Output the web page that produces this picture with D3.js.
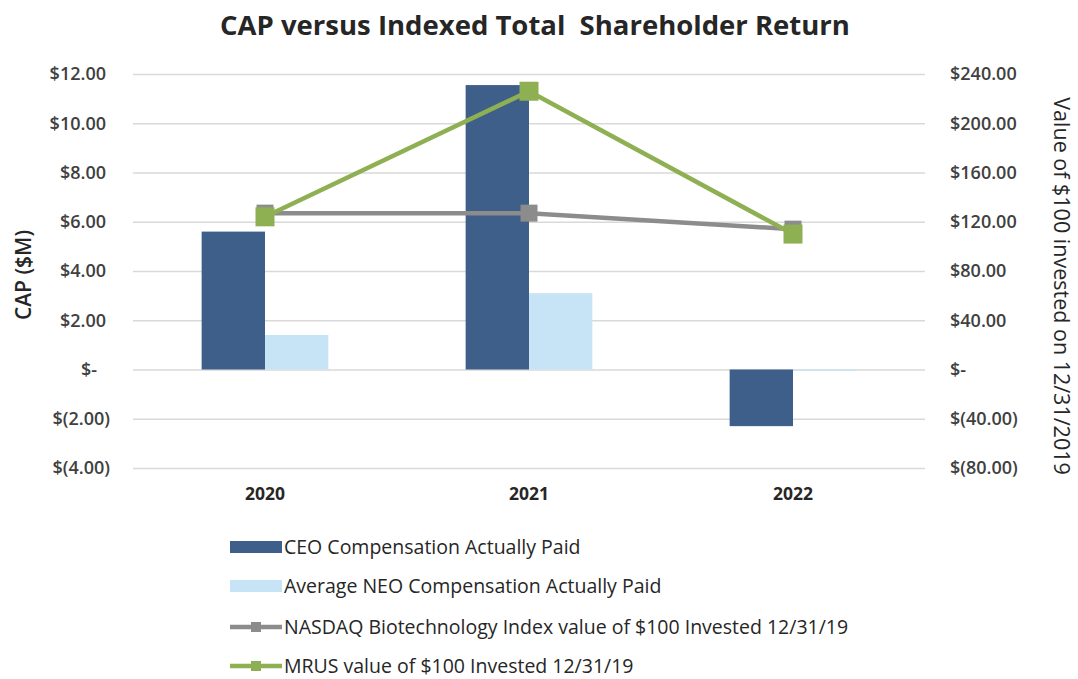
<!DOCTYPE html>
<html>
<head>
<meta charset="utf-8">
<script src="https://cdn.jsdelivr.net/npm/d3@7"></script>
<style>
  body { margin: 0; background: #fff; }
  svg { font-family: "Open Sans", sans-serif; }
</style>
</head>
<body>
<svg id="drawing_region"></svg>
<script>
var years = ['2020', '2021', '2022'];
var ceoCap = [5.6, 11.55, -2.3];
var neoCap = [1.4, 3.1, -0.05];
var nasdaqTsr = [127, 127, 114];
var mrusTsr = [124, 226, 110];
var leftTicks = [-4, -2, 0, 2, 4, 6, 8, 10, 12];
var rightTicks = [-80, -40, 0, 40, 80, 120, 160, 200, 240];
var legendLabels = [
    'CEO Compensation Actually Paid',
    'Average NEO Compensation Actually Paid',
    'NASDAQ Biotechnology Index value of $100 Invested 12/31/19',
    'MRUS value of $100 Invested 12/31/19'
];

var Config = {
    parent: '#drawing_region',
    width: 1078,
    height: 679,
    margin: { top: 74, right: 153, bottom: 211, left: 133 }
};

var colors = {
    ceo: '#3d5f89',
    neo: '#c6e4f6',
    nasdaq: '#8c8c8c',
    mrus: '#8fb052',
    grid: '#d9d9d9',
    text: '#404040'
};

function money(v, dec) {
    if (v === 0) return '$-';
    var s = d3.format(',.' + dec + 'f')(Math.abs(v));
    return v < 0 ? '$(' + s + ')' : '$' + s;
}

class ComboChart {
    constructor(config) {
        this.config = config;
        this.init();
    }

    init() {
        let self = this;
        let c = self.config;
        self.svg = d3.select(c.parent)
            .attr('width', c.width)
            .attr('height', c.height);

        self.inner_width = c.width - c.margin.left - c.margin.right;
        self.inner_height = c.height - c.margin.top - c.margin.bottom;

        self.chart = self.svg.append('g')
            .attr('transform', `translate(${c.margin.left}, ${c.margin.top})`);

        self.x0 = d3.scaleBand()
            .domain(years)
            .range([0, self.inner_width])
            .paddingInner(0.52)
            .paddingOuter(0.26);

        self.x1 = d3.scaleBand()
            .domain(['ceo', 'neo'])
            .range([0, self.x0.bandwidth()]);

        self.yleft = d3.scaleLinear()
            .domain([-4, 12])
            .range([self.inner_height, 0]);

        self.yright = d3.scaleLinear()
            .domain([-80, 240])
            .range([self.inner_height, 0]);
    }

    render() {
        let self = this;

        // gridlines + left labels
        let yl = self.chart.append('g')
            .call(d3.axisLeft(self.yleft)
                .tickValues(leftTicks)
                .tickSize(-self.inner_width)
                .tickPadding(23)
                .tickFormat(d => money(d, 2)))
            .attr('font-family', null);
        yl.select('.domain').remove();
        yl.selectAll('.tick line').attr('stroke', colors.grid).attr('stroke-width', 1.5);
        yl.selectAll('.tick text')
            .attr('fill', colors.text)
            .attr('font-size', 18)
            .attr('font-weight', 600)
            .attr('dx', d => d > 0 ? -4 : (d === 0 ? -13 : 0));

        let yr = self.chart.append('g')
            .attr('transform', `translate(${self.inner_width}, 0)`)
            .call(d3.axisRight(self.yright)
                .tickValues(rightTicks)
                .tickSize(0)
                .tickPadding(25)
                .tickFormat(d => money(d, 2)))
            .attr('font-family', null);
        yr.select('.domain').remove();
        yr.selectAll('.tick text')
            .attr('fill', colors.text)
            .attr('font-size', 18)
            .attr('font-weight', 600);

        // x labels
        let xa = self.chart.append('g')
            .attr('transform', `translate(0, ${self.inner_height})`)
            .call(d3.axisBottom(self.x0).tickSize(0).tickPadding(20))
            .attr('font-family', null);
        xa.select('.domain').remove();
        xa.selectAll('.tick text')
            .attr('fill', '#262626')
            .attr('font-size', 17.5)
            .attr('font-weight', 700);

        // bars
        let barData = years.map((y, i) => [
            { year: y, key: 'ceo', v: ceoCap[i] },
            { year: y, key: 'neo', v: neoCap[i] }
        ]).flat();

        self.chart.append('g').selectAll('rect')
            .data(barData)
            .join('rect')
            .attr('x', d => self.x0(d.year) + self.x1(d.key))
            .attr('width', self.x1.bandwidth())
            .attr('y', d => self.yleft(Math.max(0, d.v)))
            .attr('height', d => Math.max(1, Math.abs(self.yleft(d.v) - self.yleft(0))))
            .attr('fill', d => colors[d.key]);

        // lines
        let cx = y => self.x0(y) + self.x0.bandwidth() / 2;
        let series = [
            { key: 'nasdaq', values: nasdaqTsr, size: 17 },
            { key: 'mrus', values: mrusTsr, size: 19 }
        ];
        let line = d3.line()
            .x(d => cx(d.year))
            .y(d => self.yright(d.v));

        series.forEach(s => {
            let pts = years.map((y, i) => ({ year: y, v: s.values[i] }));
            let g = self.chart.append('g');
            g.append('path')
                .attr('d', line(pts))
                .attr('fill', 'none')
                .attr('stroke', colors[s.key])
                .attr('stroke-width', 4.5);
            g.selectAll('rect')
                .data(pts)
                .join('rect')
                .attr('x', d => cx(d.year) - s.size / 2)
                .attr('y', d => self.yright(d.v) - s.size / 2)
                .attr('width', s.size)
                .attr('height', s.size)
                .attr('fill', colors[s.key]);
        });

        // title
        self.svg.append('text')
            .attr('x', 535)
            .attr('y', 35)
            .attr('text-anchor', 'middle')
            .attr('font-size', 27.5)
            .attr('font-weight', 700)
            .attr('fill', '#262626')
            .style('white-space', 'pre')
            .text('CAP versus Indexed Total  Shareholder Return');

        // axis titles
        self.svg.append('text')
            .attr('transform', 'translate(31, 275) rotate(-90)')
            .attr('text-anchor', 'middle')
            .attr('font-size', 21)
            .attr('font-weight', 600)
            .attr('fill', '#262626')
            .text('CAP ($M)');

        self.svg.append('text')
            .attr('transform', 'translate(1054, 286) rotate(90)')
            .attr('text-anchor', 'middle')
            .attr('font-size', 21.5)
            .attr('fill', '#262626')
            .text('Value of $100 invested on 12/31/2019');

        // legend
        let legend = self.svg.append('g');
        let rowsY = [547, 586, 627, 666];
        let legendKeys = ['ceo', 'neo', 'nasdaq', 'mrus'];
        legendKeys.forEach((k, i) => {
            let row = legend.append('g').attr('transform', `translate(230, ${rowsY[i]})`);
            if (i < 2) {
                row.append('rect')
                    .attr('x', 0).attr('y', -6)
                    .attr('width', 52).attr('height', 12)
                    .attr('fill', colors[k]);
            } else {
                row.append('line')
                    .attr('x1', 0).attr('x2', 52)
                    .attr('stroke', colors[k]).attr('stroke-width', 4.5);
                row.append('rect')
                    .attr('x', 21).attr('y', -5)
                    .attr('width', 10).attr('height', 10)
                    .attr('fill', colors[k]);
            }
            row.append('text')
                .attr('x', 54)
                .attr('dy', '0.35em')
                .attr('font-size', 19.5)
                .attr('fill', '#262626')
                .text(legendLabels[i]);
        });
    }
}

const chart = new ComboChart(Config);
chart.render();
</script>
</body>
</html>
